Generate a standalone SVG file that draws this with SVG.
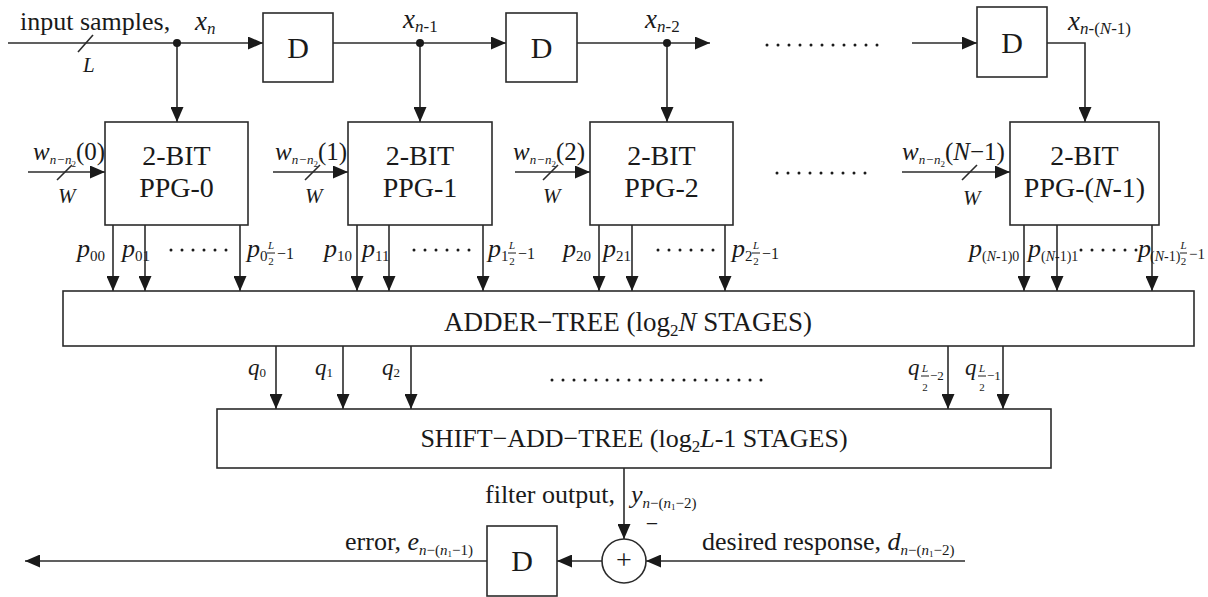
<svg xmlns="http://www.w3.org/2000/svg" width="1208" height="597" viewBox="0 0 1208 597">
<style>
.ln{stroke:#2b2b2b;stroke-width:1.6;fill:none}
.bx{fill:#fff;stroke:#2b2b2b;stroke-width:1.6}
.t{font-family:"Liberation Serif","Times New Roman",serif;fill:#1a1a1a}
.i{font-style:italic}
.dots{stroke:#1a1a1a;stroke-width:3;stroke-linecap:round;stroke-dasharray:0 11;fill:none}
.fb{stroke:#1a1a1a;stroke-width:1}
.arr{marker-end:url(#ah)}
</style>
<defs>
<marker id="ah" viewBox="0 0 15 13" refX="15" refY="6.5" markerWidth="15" markerHeight="13" orient="auto" markerUnits="userSpaceOnUse">
<path d="M0,0 L15,6.5 L0,13 z" fill="#1a1a1a"/>
</marker>
</defs>
<rect width="1208" height="597" fill="#fff"/>

<g id="connectors">
<path class="ln arr" d="M8,43 H263"/>
<path class="ln arr" d="M333,43 H506"/>
<path class="ln arr" d="M577,43 H710"/>
<path class="ln arr" d="M912,43 H977"/>
<path class="ln arr" d="M1047,43 H1085 V122"/>
<path class="ln arr" d="M177,43 V122"/>
<path class="ln arr" d="M420,43 V122"/>
<path class="ln arr" d="M667,43 V122"/>
<circle cx="177" cy="43" r="4" fill="#1a1a1a"/>
<circle cx="420" cy="43" r="4" fill="#1a1a1a"/>
<circle cx="667" cy="43" r="4" fill="#1a1a1a"/>
<path class="ln" d="M78,52 L93,35"/>
<path class="ln arr" d="M28,172 H105"/>
<path class="ln arr" d="M273,172 H348"/>
<path class="ln arr" d="M515,172 H590"/>
<path class="ln arr" d="M902,172 H1010"/>
<path class="ln" d="M57,180 L72,165"/>
<path class="ln" d="M305,180 L320,165"/>
<path class="ln" d="M543,180 L558,165"/>
<path class="ln" d="M962,180 L977,165"/>
<path class="ln arr" d="M113,225 V291"/>
<path class="ln arr" d="M145,225 V291"/>
<path class="ln arr" d="M240,225 V291"/>
<path class="ln arr" d="M357,225 V291"/>
<path class="ln arr" d="M389,225 V291"/>
<path class="ln arr" d="M483,225 V291"/>
<path class="ln arr" d="M599,225 V291"/>
<path class="ln arr" d="M632,225 V291"/>
<path class="ln arr" d="M725,225 V291"/>
<path class="ln arr" d="M1024,225 V291"/>
<path class="ln arr" d="M1057,225 V291"/>
<path class="ln arr" d="M1152,225 V291"/>
<path class="ln arr" d="M276,346 V409"/>
<path class="ln arr" d="M343,346 V409"/>
<path class="ln arr" d="M411,346 V409"/>
<path class="ln arr" d="M948,346 V409"/>
<path class="ln arr" d="M1003,346 V409"/>
<path class="ln arr" d="M624,468 V539"/>
<path class="ln arr" d="M965,561 H646"/>
<path class="ln arr" d="M602,561 H557"/>
<path class="ln arr" d="M487,561 H25"/>
<path class="dots" d="M767,45 H885"/>
<path class="dots" d="M777,173 H867"/>
<path class="dots" d="M171,250 H227"/>
<path class="dots" d="M414,250 H470"/>
<path class="dots" d="M658,250 H714"/>
<path class="dots" d="M1081,250 H1137"/>
<path class="dots" d="M552,380 H767"/>
</g>

<g id="labels-top" class="t">
<text x="20" y="30" font-size="26">input samples,</text>
<text x="83" y="72" font-size="21" class="i">L</text>
<text x="195" y="30" font-size="27"><tspan class="i">x</tspan><tspan class="i" font-size="17" dy="4">n</tspan></text>
<text x="403" y="28" font-size="27"><tspan class="i">x</tspan><tspan class="i" font-size="17" dy="4">n</tspan><tspan font-size="17">-1</tspan></text>
<text x="645" y="28" font-size="27"><tspan class="i">x</tspan><tspan class="i" font-size="17" dy="4">n</tspan><tspan font-size="17">-2</tspan></text>
<text x="1068" y="30" font-size="27"><tspan class="i">x</tspan><tspan class="i" font-size="17" dy="4">n</tspan><tspan font-size="17">-(</tspan><tspan class="i" font-size="17">N</tspan><tspan font-size="17">-1)</tspan></text>
</g>

<g id="D1"><rect class="bx" x="263" y="13" width="70" height="69"/><text class="t" x="298" y="58" font-size="30" text-anchor="middle">D</text></g>
<g id="D2"><rect class="bx" x="506" y="13" width="71" height="69"/><text class="t" x="541.5" y="58" font-size="30" text-anchor="middle">D</text></g>
<g id="D3"><rect class="bx" x="977" y="7" width="70" height="70"/><text class="t" x="1012" y="53" font-size="30" text-anchor="middle">D</text></g>

<g id="PPG0"><rect class="bx" x="105" y="122" width="143" height="103"/><text class="t" x="176.5" y="165" font-size="28" text-anchor="middle">2-BIT</text><text class="t" x="176.5" y="197" font-size="28" text-anchor="middle">PPG-0</text></g>
<g id="PPG1"><rect class="bx" x="348" y="122" width="144" height="103"/><text class="t" x="420" y="165" font-size="28" text-anchor="middle">2-BIT</text><text class="t" x="420" y="197" font-size="28" text-anchor="middle">PPG-1</text></g>
<g id="PPG2"><rect class="bx" x="590" y="122" width="143" height="103"/><text class="t" x="661.5" y="165" font-size="28" text-anchor="middle">2-BIT</text><text class="t" x="661.5" y="197" font-size="28" text-anchor="middle">PPG-2</text></g>
<g id="PPGN"><rect class="bx" x="1010" y="122" width="149" height="103"/><text class="t" x="1084.5" y="165" font-size="28" text-anchor="middle">2-BIT</text><text class="t" x="1084.5" y="197" font-size="28" text-anchor="middle">PPG-(<tspan class="i">N</tspan>-1)</text></g>

<g id="w-labels" class="t">
<text x="33" y="160" font-size="25"><tspan class="i">w</tspan><tspan class="i" font-size="13" dy="4">n−n</tspan><tspan font-size="9" dy="3">2</tspan><tspan dy="-7">(0)</tspan></text>
<text x="275" y="160" font-size="25"><tspan class="i">w</tspan><tspan class="i" font-size="13" dy="4">n−n</tspan><tspan font-size="9" dy="3">2</tspan><tspan dy="-7">(1)</tspan></text>
<text x="513" y="160" font-size="25"><tspan class="i">w</tspan><tspan class="i" font-size="13" dy="4">n−n</tspan><tspan font-size="9" dy="3">2</tspan><tspan dy="-7">(2)</tspan></text>
<text x="902" y="160" font-size="25"><tspan class="i">w</tspan><tspan class="i" font-size="13" dy="4">n−n</tspan><tspan font-size="9" dy="3">2</tspan><tspan dy="-7">(</tspan><tspan class="i">N</tspan><tspan>−1)</tspan></text>
<text x="58" y="203" font-size="21" class="i">W</text>
<text x="305" y="203" font-size="21" class="i">W</text>
<text x="543" y="203" font-size="21" class="i">W</text>
<text x="963" y="205" font-size="21" class="i">W</text>
</g>

<g id="p-labels" class="t">
<text x="77" y="257" font-size="26"><tspan class="i">p</tspan><tspan font-size="15" dy="4">00</tspan></text>
<text x="122" y="257" font-size="26"><tspan class="i">p</tspan><tspan font-size="15" dy="4">01</tspan></text>
<text x="324" y="257" font-size="26"><tspan class="i">p</tspan><tspan font-size="15" dy="4">10</tspan></text>
<text x="362" y="257" font-size="26"><tspan class="i">p</tspan><tspan font-size="15" dy="4">11</tspan></text>
<text x="563" y="257" font-size="26"><tspan class="i">p</tspan><tspan font-size="15" dy="4">20</tspan></text>
<text x="603" y="257" font-size="26"><tspan class="i">p</tspan><tspan font-size="15" dy="4">21</tspan></text>
<text x="969" y="257" font-size="26"><tspan class="i">p</tspan><tspan font-size="14" dy="4">(<tspan class="i">N</tspan>-1)0</tspan></text>
<text x="1028" y="257" font-size="26"><tspan class="i">p</tspan><tspan font-size="14" dy="4">(<tspan class="i">N</tspan>-1)1</tspan></text>
<g transform="translate(247,257)">
<text font-size="26" class="i">p</text><text x="13" y="4" font-size="15">0</text>
<text x="24" y="-8" font-size="11" class="i" text-anchor="middle">L</text><line class="fb" x1="20" x2="28" y1="-4" y2="-4"/><text x="24" y="8" font-size="11" text-anchor="middle">2</text>
<text x="30" y="2" font-size="16">−1</text></g>
<g transform="translate(488,257)">
<text font-size="26" class="i">p</text><text x="13" y="4" font-size="15">1</text>
<text x="24" y="-8" font-size="11" class="i" text-anchor="middle">L</text><line class="fb" x1="20" x2="28" y1="-4" y2="-4"/><text x="24" y="8" font-size="11" text-anchor="middle">2</text>
<text x="30" y="2" font-size="16">−1</text></g>
<g transform="translate(732,257)">
<text font-size="26" class="i">p</text><text x="13" y="4" font-size="15">2</text>
<text x="24" y="-8" font-size="11" class="i" text-anchor="middle">L</text><line class="fb" x1="20" x2="28" y1="-4" y2="-4"/><text x="24" y="8" font-size="11" text-anchor="middle">2</text>
<text x="30" y="2" font-size="16">−1</text></g>
<g transform="translate(1138,257)">
<text font-size="26" class="i">p</text><text x="12" y="4" font-size="14">(<tspan class="i">N</tspan>-1)</text>
<text x="45.5" y="-8" font-size="11" class="i" text-anchor="middle">L</text><line class="fb" x1="42" x2="49" y1="-4" y2="-4"/><text x="45.5" y="8" font-size="11" text-anchor="middle">2</text>
<text x="51" y="2" font-size="15">−1</text></g>
</g>

<g id="adder-tree"><rect class="bx" x="63" y="291" width="1131" height="55"/><text class="t" x="628" y="331" font-size="27" text-anchor="middle">ADDER−TREE (log<tspan font-size="17" dy="5">2</tspan><tspan class="i" dy="-5">N</tspan> STAGES)</text></g>

<g id="q-labels" class="t">
<text x="248" y="375" font-size="23"><tspan class="i">q</tspan><tspan font-size="13" dy="2">0</tspan></text>
<text x="315" y="375" font-size="23"><tspan class="i">q</tspan><tspan font-size="13" dy="2">1</tspan></text>
<text x="382" y="375" font-size="23"><tspan class="i">q</tspan><tspan font-size="13" dy="2">2</tspan></text>
<g transform="translate(908,375)">
<text font-size="23" class="i">q</text>
<text x="17" y="-3" font-size="11" class="i" text-anchor="middle">L</text><line class="fb" x1="13" x2="21" y1="1" y2="1"/><text x="17" y="16" font-size="11" text-anchor="middle">2</text>
<text x="22" y="5" font-size="13">−2</text></g>
<g transform="translate(965,375)">
<text font-size="23" class="i">q</text>
<text x="17" y="-3" font-size="11" class="i" text-anchor="middle">L</text><line class="fb" x1="13" x2="21" y1="1" y2="1"/><text x="17" y="16" font-size="11" text-anchor="middle">2</text>
<text x="22" y="5" font-size="13">−1</text></g>
</g>

<g id="shift-add-tree"><rect class="bx" x="217" y="409" width="834" height="59"/><text class="t" x="634" y="447" font-size="26" text-anchor="middle">SHIFT−ADD−TREE (log<tspan font-size="17" dy="5">2</tspan><tspan class="i" dy="-5">L</tspan>-1 STAGES)</text></g>

<g id="adder"><circle class="bx" cx="624" cy="561" r="22"/><text class="t" x="624" y="569" font-size="28" text-anchor="middle">+</text></g>
<g id="D4"><rect class="bx" x="487" y="526" width="70" height="70"/><text class="t" x="522" y="571" font-size="30" text-anchor="middle">D</text></g>

<g id="labels-bottom" class="t">
<text x="485" y="503" font-size="26">filter output,</text>
<text x="631" y="503" font-size="26"><tspan class="i">y</tspan><tspan class="i" font-size="15" dy="5">n</tspan><tspan font-size="15">−(</tspan><tspan class="i" font-size="15">n</tspan><tspan font-size="9" dy="2">1</tspan><tspan font-size="15" dy="-2">−2)</tspan></text>
<text x="652" y="531" font-size="22" text-anchor="middle">−</text>
<text x="473" y="550" font-size="26" text-anchor="end">error, <tspan class="i">e</tspan><tspan class="i" font-size="15" dy="5">n</tspan><tspan font-size="15">−(</tspan><tspan class="i" font-size="15">n</tspan><tspan font-size="9" dy="2">1</tspan><tspan font-size="15" dy="-2">−1)</tspan></text>
<text x="702" y="550" font-size="26">desired response, <tspan class="i">d</tspan><tspan class="i" font-size="15" dy="5">n</tspan><tspan font-size="15">−(</tspan><tspan class="i" font-size="15">n</tspan><tspan font-size="9" dy="2">1</tspan><tspan font-size="15" dy="-2">−2)</tspan></text>
</g>
</svg>
